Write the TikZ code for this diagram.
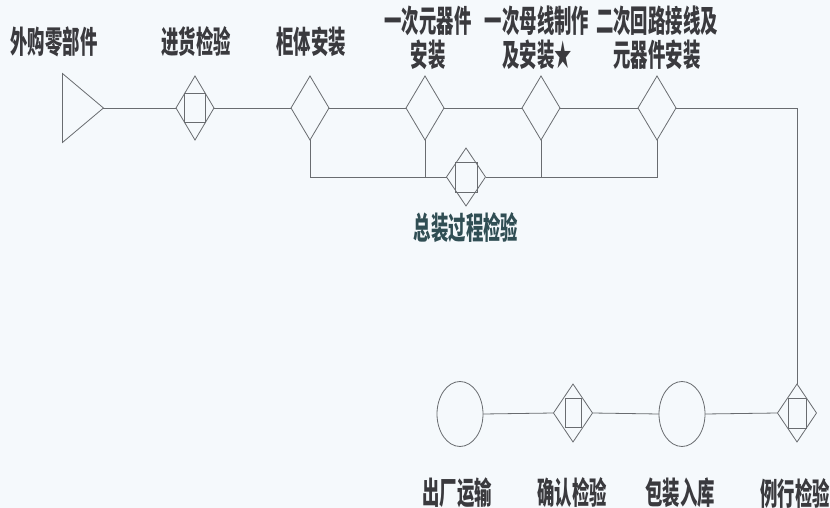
\documentclass[tikz,border=0pt]{standalone}
\usepackage{fontspec}
\newfontfamily\cjk[FakeStretch=0.56]{Noto Sans CJK SC}
\usetikzlibrary{shapes.geometric}
\definecolor{bgc}{RGB}{245,249,252}
\definecolor{linec}{RGB}{105,108,112}
\definecolor{txtc}{RGB}{58,58,62}
\definecolor{tealtxt}{RGB}{48,78,84}
\tikzset{
  flow/.style={draw=linec, line width=0.8pt},
  opbox/.style={diamond, draw=linec, line width=0.8pt, inner sep=0pt, outer sep=0pt,
                minimum width=38pt, minimum height=64pt},
  insbox/.style={diamond, draw=linec, line width=0.8pt, inner sep=0pt, outer sep=0pt,
                minimum width=39pt, minimum height=58pt},
  store/.style={ellipse, draw=linec, line width=0.8pt, inner sep=0pt, outer sep=0pt,
                minimum width=46pt, minimum height=65pt},
  src/.style={isosceles triangle, isosceles triangle stretches, shape border rotate=0,
              draw=linec, line width=0.8pt, inner sep=0pt, outer sep=0pt,
              minimum width=69pt, minimum height=41pt},
  lbl/.style={text=txtc, font=\cjk\bfseries\fontsize{31}{34}\selectfont, align=center, inner sep=0pt}
}
\begin{document}
\begin{tikzpicture}[x=1pt,y=-1pt]
\fill[bgc] (0,0) rectangle (830,508);
\useasboundingbox (0,0) rectangle (830,508);

% top row
\node[src] (tri) at (78.5,108) {};
\node[opbox] (d1) at (195,108) {};
\node[opbox] (d2) at (310,108) {};
\node[opbox] (d3) at (425,108) {};
\node[opbox] (d4) at (541,108) {};
\node[opbox] (d5) at (657,108) {};
\coordinate (corner) at (797,108);

% middle inspection
\node[insbox] (d7) at (466,177) {};

% bottom row
\node[store] (e1) at (460,414) {};
\node[insbox] (d6) at (573,413) {};
\node[store] (e2) at (682,414) {};
\node[insbox] (d8) at (797,413) {};

% inner squares of inspection symbols
\draw[flow] (d1) ++(-10.5,-14.5) rectangle ++(21,29);
\draw[flow] (d7) ++(-11,-15) rectangle ++(22,30);
\draw[flow] (d6) ++(-8,-14.5) rectangle ++(16,29);
\draw[flow] (d8) ++(-9,-15) rectangle ++(18,30);

% connectors
\draw[flow] (tri.apex) -- (d1.west);
\draw[flow] (d1.east) -- (d2.west);
\draw[flow] (d2.east) -- (d3.west);
\draw[flow] (d3.east) -- (d4.west);
\draw[flow] (d4.east) -- (d5.west);
\draw[flow] (d5.east) -- (corner) -- (d8.north);
\draw[flow] (d2.south) |- (d7.west);
\draw[flow] (d5.south) |- (d7.east);
\draw[flow] (d3.south) -- (d3 |- d7);
\draw[flow] (d4.south) -- (d4 |- d7);
\draw[flow] (e1.east) -- (d6.west);
\draw[flow] (d6.east) -- (e2.west);
\draw[flow] (e2.east) -- (d8.west);

% labels
\node[lbl] (t0) at (54,42) {外购零部件};
\node[lbl] (t1) at (196,42) {进货检验};
\node[lbl] (t2) at (311,42) {柜体安装};
\node[lbl] (t3) at (428,38) {一次元器件\\安装};
\node[lbl] (t4) at (537,38) {一次母线制作\\及安装★};
\node[lbl] (t5) at (657,38) {二次回路接线及\\元器件安装};
\node[lbl, text=tealtxt] (t7) at (466,228) {总装过程检验};
\node[lbl] (b1) at (457,493) {出厂运输};
\node[lbl] (b2) at (572,493) {确认检验};
\node[lbl] (b3) at (680,493) {包装入库};
\node[lbl] (b4) at (795,493) {例行检验};
\end{tikzpicture}
\end{document}
